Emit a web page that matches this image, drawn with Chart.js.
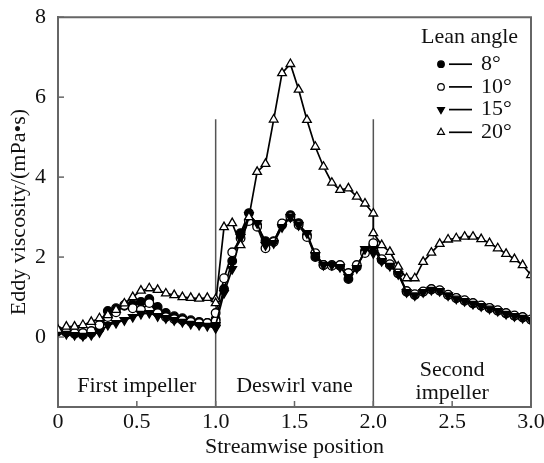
<!DOCTYPE html>
<html><head><meta charset="utf-8">
<script src="https://cdn.jsdelivr.net/npm/chart.js@4/dist/chart.umd.min.js"></script>
<style>html,body{margin:0;padding:0;background:#fff}#wrap{width:544px;height:463px}</style>
</head><body><div id="wrap"><canvas id="c"></canvas></div>
<script>
// Streamwise positions (three blade rows, 20 stations each)
const positions = [
  0, 0.053, 0.105, 0.158, 0.211, 0.263, 0.316, 0.368, 0.421, 0.474, 0.526, 0.579, 0.632, 0.684, 0.737, 0.789, 0.842, 0.895, 0.947, 1.0,
  1.0, 1.053, 1.105, 1.158, 1.211, 1.263, 1.316, 1.368, 1.421, 1.474, 1.526, 1.579, 1.632, 1.684, 1.737, 1.789, 1.842, 1.895, 1.947, 2.0,
  2.0, 2.053, 2.105, 2.158, 2.211, 2.263, 2.316, 2.368, 2.421, 2.474, 2.526, 2.579, 2.632, 2.684, 2.737, 2.789, 2.842, 2.895, 2.947, 3.0
];
const lean8 = [
  0.15, 0.12, 0.08, 0.05, 0.1, 0.2, 0.65, 0.72, 0.78, 0.82, 0.88, 0.95, 0.75, 0.6, 0.52, 0.47, 0.42, 0.38, 0.35, 0.32,
  0.45, 1.2, 1.9, 2.6, 3.1, 2.8, 2.4, 2.4, 2.8, 3.05, 2.85, 2.55, 2.0, 1.8, 1.8, 1.78, 1.45, 1.75, 2.15, 2.25,
  2.3, 1.93, 1.8, 1.59, 1.13, 1.05, 1.13, 1.19, 1.16, 1.05, 0.97, 0.91, 0.84, 0.78, 0.72, 0.66, 0.59, 0.53, 0.49, 0.43
];
const lean10 = [
  0.15, 0.12, 0.1, 0.1, 0.15, 0.3, 0.5, 0.62, 0.8, 0.72, 0.68, 0.85, 0.6, 0.5, 0.45, 0.42, 0.38, 0.35, 0.35, 0.4,
  0.6, 1.47, 2.12, 2.47, 2.9, 2.76, 2.22, 2.38, 2.84, 3.0, 2.8, 2.5, 2.1, 1.8, 1.78, 1.8, 1.6, 1.8, 2.1, 2.2,
  2.35, 1.95, 1.82, 1.6, 1.15, 1.07, 1.14, 1.2, 1.17, 1.06, 0.98, 0.92, 0.85, 0.79, 0.73, 0.67, 0.6, 0.54, 0.5, 0.44
];
const lean15 = [
  0.12, 0.08, 0.05, 0.03, 0.05, 0.12, 0.3, 0.35, 0.42, 0.5, 0.58, 0.6, 0.52, 0.47, 0.42, 0.38, 0.33, 0.3, 0.28, 0.22,
  0.3, 1.1, 1.7, 2.5, 3.05, 2.85, 2.3, 2.35, 2.75, 3.0, 2.8, 2.6, 2.05, 1.8, 1.8, 1.75, 1.5, 1.72, 2.2, 2.1,
  2.2, 1.9, 1.78, 1.57, 1.12, 1.04, 1.12, 1.18, 1.15, 1.04, 0.96, 0.9, 0.83, 0.77, 0.71, 0.65, 0.58, 0.52, 0.48, 0.42
];
const lean20 = [
  0.18, 0.26, 0.26, 0.3, 0.38, 0.47, 0.55, 0.68, 0.84, 1.0, 1.16, 1.22, 1.18, 1.09, 1.05, 1.0, 0.98, 0.96, 0.98, 0.95,
  0.85, 2.75, 2.85, 2.3, 3.0, 4.13, 4.33, 5.44, 6.6, 6.83, 6.19, 5.43, 4.76, 4.26, 3.86, 3.68, 3.72, 3.51, 3.34, 3.09,
  2.6, 2.3, 2.13, 1.76, 1.47, 1.47, 1.88, 2.11, 2.33, 2.44, 2.47, 2.51, 2.51, 2.45, 2.35, 2.22, 2.08, 1.95, 1.8, 1.55
];
const seriesLabels = ['8°', '10°', '15°', '20°'];
const legendTitle = 'Lean angle';
const xTicks = [0, 0.5, 1, 1.5, 2, 2.5, 3];
const xTickLabels = ['0', '0.5', '1.0', '1.5', '2.0', '2.5', '3.0'];
const yTicks = [0, 2, 4, 6, 8];
const yTickLabels = ['0', '2', '4', '6', '8'];
const dividers = [1.0, 2.0];
const dividerTop = 5.45;
const regionLabels = [
  { x: 0.5, y: -1.23, lines: ['First impeller'] },
  { x: 1.5, y: -1.23, lines: ['Deswirl vane'] },
  { x: 2.5, y: -1.11, lines: ['Second', 'impeller'] }
];

const FONT = '"Liberation Serif", "Times New Roman", serif';
const FS = 22;
const pts = v => positions.map((x, i) => ({ x: x, y: v[i] }));
const styles = [
  { pointStyle: 'circle', radius: 4.3, fill: '#000', rot: 0 },
  { pointStyle: 'circle', radius: 4.3, fill: '#fff', rot: 0 },
  { pointStyle: 'triangle', radius: 5, fill: '#000', rot: 180 },
  { pointStyle: 'triangle', radius: 5, fill: '#fff', rot: 0 }
];
const seriesData = [lean8, lean10, lean15, lean20];
const datasets = seriesData.map((d, i) => ({
  label: seriesLabels[i],
  data: pts(d),
  borderColor: '#000',
  borderWidth: 1.7,
  pointStyle: styles[i].pointStyle,
  pointRadius: styles[i].radius,
  pointRotation: styles[i].rot,
  pointBackgroundColor: styles[i].fill,
  pointBorderColor: '#000',
  pointBorderWidth: 1.3,
  tension: 0,
  order: 4 - i
}));

const decor = {
  id: 'decor',
  beforeDatasetsDraw(chart) {
    const ctx = chart.ctx, xs = chart.scales.x, ys = chart.scales.y;
    ctx.save();
    ctx.strokeStyle = '#555'; ctx.lineWidth = 1.5;
    dividers.forEach(d => {
      const px = xs.getPixelForValue(d);
      ctx.beginPath(); ctx.moveTo(px, ys.getPixelForValue(ys.min)); ctx.lineTo(px, ys.getPixelForValue(dividerTop)); ctx.stroke();
    });
    ctx.fillStyle = '#111'; ctx.font = FS + 'px ' + FONT; ctx.textAlign = 'center'; ctx.textBaseline = 'middle';
    regionLabels.forEach(r => {
      const cx = xs.getPixelForValue(r.x), cy = ys.getPixelForValue(r.y);
      const n = r.lines.length;
      r.lines.forEach((t, k) => ctx.fillText(t, cx, cy + (k - (n - 1) / 2) * 23));
    });
    ctx.restore();
  },
  afterDraw(chart) {
    const ctx = chart.ctx, a = chart.chartArea, xs = chart.scales.x, ys = chart.scales.y;
    ctx.save();
    ctx.strokeStyle = '#666'; ctx.lineWidth = 2;
    ctx.beginPath(); ctx.moveTo(a.left, a.top); ctx.lineTo(a.right, a.top); ctx.lineTo(a.right, a.bottom); ctx.stroke();
    ctx.lineWidth = 1.5;
    xTicks.forEach(v => { const px = xs.getPixelForValue(v); ctx.beginPath(); ctx.moveTo(px, a.bottom); ctx.lineTo(px, a.bottom - 6); ctx.stroke(); });
    yTicks.forEach(v => { const py = ys.getPixelForValue(v); ctx.beginPath(); ctx.moveTo(a.left, py); ctx.lineTo(a.left + 6, py); ctx.stroke(); });
    // legend
    ctx.fillStyle = '#111'; ctx.font = FS + 'px ' + FONT; ctx.textBaseline = 'middle'; ctx.textAlign = 'left';
    ctx.fillText(legendTitle, a.right - 110, a.top + 20);
    seriesLabels.forEach((lab, i) => {
      const y = a.top + 47 + i * 22.7;
      const mx = a.right - 90;
      ctx.strokeStyle = '#000'; ctx.lineWidth = 1.7;
      ctx.beginPath(); ctx.moveTo(mx + 8, y); ctx.lineTo(mx + 31, y); ctx.stroke();
      ctx.fillStyle = styles[i].fill; ctx.strokeStyle = '#000'; ctx.lineWidth = 1.2;
      Chart.helpers.drawPoint(ctx, { pointStyle: styles[i].pointStyle, radius: styles[i].radius - 1, rotation: styles[i].rot, borderWidth: 1.2 }, mx, y);
      ctx.fillStyle = '#111';
      ctx.fillText(lab, mx + 40, y);
    });
    ctx.restore();
  }
};

new Chart(document.getElementById('c'), {
  type: 'line',
  data: { datasets },
  options: {
    responsive: true, maintainAspectRatio: false, animation: false,
    layout: { padding: { top: 15, right: 13, left: 0, bottom: 0 } },
    plugins: { legend: { display: false }, tooltip: { enabled: false } },
    scales: {
      x: {
        type: 'linear', min: 0, max: 3,
        afterBuildTicks: s => { s.ticks = xTicks.map(v => ({ value: v })); },
        afterFit: s => { s.height = 56; },
        ticks: { callback: v => xTickLabels[xTicks.indexOf(v)], font: { family: FONT, size: FS }, color: '#111', padding: -6, maxRotation: 0, autoSkip: false },
        grid: { display: false },
        border: { display: true, color: '#666', width: 2 },
        title: { display: true, text: 'Streamwise position', font: { family: FONT, size: FS }, color: '#111', padding: { top: 0, bottom: 3 } }
      },
      y: {
        type: 'linear', min: -1.75, max: 8,
        afterBuildTicks: s => { s.ticks = yTicks.map(v => ({ value: v })); },
        afterFit: s => { s.width = 58; },
        ticks: { callback: v => yTickLabels[yTicks.indexOf(v)], font: { family: FONT, size: FS }, color: '#111', padding: 4 },
        grid: { display: false },
        border: { display: true, color: '#666', width: 2 },
        title: { display: true, text: 'Eddy viscosity/(mPa•s)', font: { family: FONT, size: FS }, color: '#111', padding: { top: 6, bottom: 0 } }
      }
    }
  },
  plugins: [decor]
});
</script></body></html>
